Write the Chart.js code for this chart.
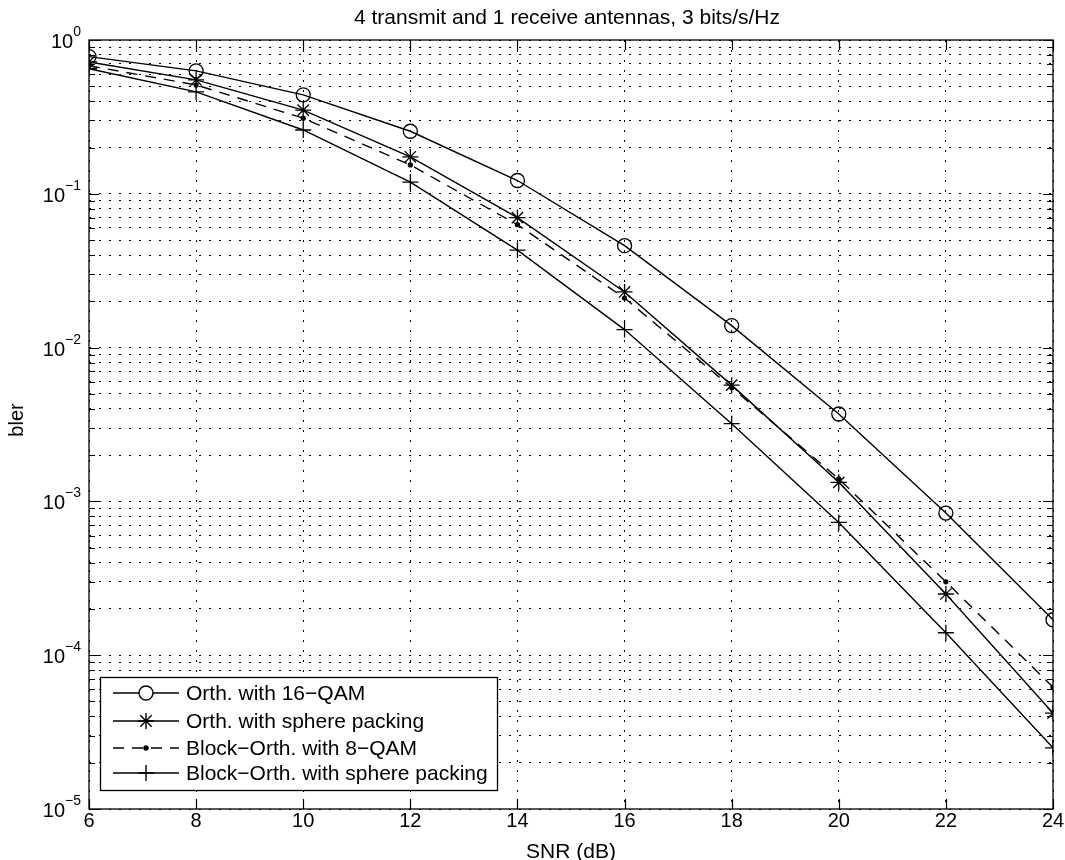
<!DOCTYPE html>
<html>
<head>
<meta charset="utf-8">
<script src="https://cdn.jsdelivr.net/npm/chart.js@4.4.1/dist/chart.umd.min.js"></script>
<style>
html,body{margin:0;padding:0;background:#fff;}
#wrap{width:1065px;height:860px;position:relative;}
</style>
</head>
<body>
<div id="wrap"><canvas id="c" width="1065" height="860"></canvas></div>
<script>
const snr = [6, 8, 10, 12, 14, 16, 18, 20, 22, 24];
const orth16qam = [0.78, 0.63, 0.44, 0.255, 0.122, 0.046, 0.0139, 0.0037, 0.00084, 0.00017];
const orthSphere = [0.72, 0.55, 0.35, 0.174, 0.070, 0.023, 0.0057, 0.00133, 0.00025, 0.000042];
const blockOrth8qam = [0.68, 0.51, 0.31, 0.154, 0.063, 0.021, 0.0055, 0.0014, 0.00030, 0.000062];
const blockOrthSphere = [0.65, 0.46, 0.26, 0.119, 0.043, 0.0131, 0.0032, 0.00073, 0.00014, 0.000025];
const seriesNames = ['Orth. with 16\u2212QAM', 'Orth. with sphere packing', 'Block\u2212Orth. with 8\u2212QAM', 'Block\u2212Orth. with sphere packing'];
const xTicks = [6, 8, 10, 12, 14, 16, 18, 20, 22, 24];
const yExponents = [0, -1, -2, -3, -4, -5];
const titleText = '4 transmit and 1 receive antennas, 3 bits/s/Hz';
const xLabel = 'SNR (dB)';
const yLabel = 'bler';

const yTickValues = [];
for (let e = -5; e <= 0; e++) {
  for (let s = 1; s <= 9; s++) {
    const v = s * Math.pow(10, e);
    if (v <= 1.0000001) yTickValues.push(v);
  }
}

const FONT = '"Liberation Sans", Arial, sans-serif';

function mk(data, label, style, radius, dash, fill) {
  return {
    label: label,
    data: snr.map((x, i) => ({x: x, y: data[i]})),
    borderColor: '#000',
    backgroundColor: fill,
    borderWidth: 1.4,
    borderDash: dash,
    pointStyle: style,
    pointRadius: radius,
    pointBorderColor: '#000',
    pointBackgroundColor: fill,
    pointBorderWidth: 1.3,
    tension: 0,
    fill: false
  };
}

const datasets = [
  mk(orth16qam, seriesNames[0], 'circle', 7, [], 'rgba(255,255,255,0)'),
  mk(orthSphere, seriesNames[1], 'star', 8, [], '#000'),
  mk(blockOrth8qam, seriesNames[2], 'circle', 2, [11, 8], '#000'),
  mk(blockOrthSphere, seriesNames[3], 'cross', 8, [], '#000')
];

const decor = {
  id: 'decor',
  afterDraw(chart) {
    const ctx = chart.ctx;
    const a = chart.chartArea;
    const xs = chart.scales.x, ys = chart.scales.y;
    ctx.save();
    ctx.strokeStyle = '#000';
    ctx.lineWidth = 1.3;
    ctx.setLineDash([]);
    ctx.strokeRect(a.left, a.top, a.right - a.left, a.bottom - a.top);
    ctx.lineWidth = 1.2;
    xTicks.forEach(v => {
      const px = Math.round(xs.getPixelForValue(v)) + 0.5;
      ctx.beginPath();
      ctx.moveTo(px, a.bottom); ctx.lineTo(px, a.bottom - 10);
      ctx.moveTo(px, a.top); ctx.lineTo(px, a.top + 10);
      ctx.stroke();
    });
    yTickValues.forEach(v => {
      const py = Math.round(ys.getPixelForValue(v)) + 0.5;
      const major = Math.abs(Math.log10(v) - Math.round(Math.log10(v))) < 1e-9;
      const len = major ? 10 : 6;
      ctx.beginPath();
      ctx.moveTo(a.left, py); ctx.lineTo(a.left + len, py);
      ctx.moveTo(a.right, py); ctx.lineTo(a.right - len, py);
      ctx.stroke();
    });
    ctx.fillStyle = '#000';
    yExponents.forEach(e => {
      const py = ys.getPixelForValue(Math.pow(10, e));
      const expStr = e === 0 ? '0' : '\u2212' + Math.abs(e);
      ctx.font = '14px ' + FONT;
      const ew = ctx.measureText(expStr).width;
      ctx.textAlign = 'left';
      ctx.textBaseline = 'alphabetic';
      const right = 81;
      ctx.fillText(expStr, right - ew, py - 4);
      ctx.font = '20px ' + FONT;
      ctx.textAlign = 'right';
      ctx.fillText('10', right - ew, py + 8);
    });
    ctx.font = '21px ' + FONT;
    ctx.textAlign = 'center';
    ctx.textBaseline = 'middle';
    ctx.fillText(titleText, 567, 18);
    ctx.fillText(xLabel, (a.left + a.right) / 2, 852);
    ctx.save();
    ctx.translate(17, 420);
    ctx.rotate(-Math.PI / 2);
    ctx.font = '20px ' + FONT;
    ctx.fillText(yLabel, 0, 0);
    ctx.restore();
    const lx = 100, ly = 677, lw = 397, lh = 113;
    ctx.fillStyle = '#fff';
    ctx.fillRect(lx, ly, lw, lh);
    ctx.strokeStyle = '#000';
    ctx.lineWidth = 1.3;
    ctx.strokeRect(lx + 0.5, ly + 0.5, lw, lh);
    const rows = [693, 721, 748, 773];
    chart.data.datasets.forEach((ds, i) => {
      const y = rows[i];
      ctx.strokeStyle = '#000';
      ctx.lineWidth = 1.4;
      ctx.setLineDash(ds.borderDash || []);
      ctx.beginPath();
      ctx.moveTo(113, y); ctx.lineTo(179, y);
      ctx.stroke();
      ctx.setLineDash([]);
      if (ds.pointStyle === 'circle') {
        ctx.fillStyle = ds.pointRadius > 3 ? '#fff' : '#000';
        ctx.beginPath();
        ctx.arc(146, y, ds.pointRadius, 0, Math.PI * 2);
        ctx.fill();
        ctx.stroke();
      } else {
        Chart.helpers.drawPoint(ctx, {
          pointStyle: ds.pointStyle,
          radius: ds.pointRadius,
          borderWidth: 1.3,
          rotation: 0
        }, 146, y);
      }
      ctx.fillStyle = '#000';
      ctx.font = '21px ' + FONT;
      ctx.textAlign = 'left';
      ctx.textBaseline = 'middle';
      ctx.fillText(ds.label, 186, y + 1);
    });
    ctx.restore();
  }
};

new Chart(document.getElementById('c'), {
  type: 'line',
  data: { datasets: datasets },
  options: {
    responsive: false,
    animation: false,
    devicePixelRatio: 1,
    layout: { padding: { left: 0, right: 12, top: 40, bottom: 0 } },
    plugins: { legend: { display: false }, tooltip: { enabled: false }, title: { display: false } },
    scales: {
      x: {
        type: 'linear',
        min: 6, max: 24,
        afterFit(s) { s.height = 51; s.paddingLeft = 0; s.paddingRight = 0; },
        afterBuildTicks(s) { s.ticks = xTicks.map(v => ({value: v})); },
        grid: { color: '#000', lineWidth: 1, drawTicks: false },
        border: { display: false, dash: [2, 8] },
        ticks: { color: '#000', font: { family: FONT, size: 20 }, padding: 0, maxRotation: 0,
          callback: v => String(v) }
      },
      y: {
        type: 'logarithmic',
        min: 1e-5, max: 1,
        afterFit(s) { s.width = 89; s.paddingTop = 0; s.paddingBottom = 0; },
        afterBuildTicks(s) { s.ticks = yTickValues.map(v => ({value: v})); },
        grid: { color: '#000', lineWidth: 1, drawTicks: false },
        border: { display: false, dash: [2, 8] },
        ticks: { display: false }
      }
    }
  },
  plugins: [decor]
});
</script>
</body>
</html>
